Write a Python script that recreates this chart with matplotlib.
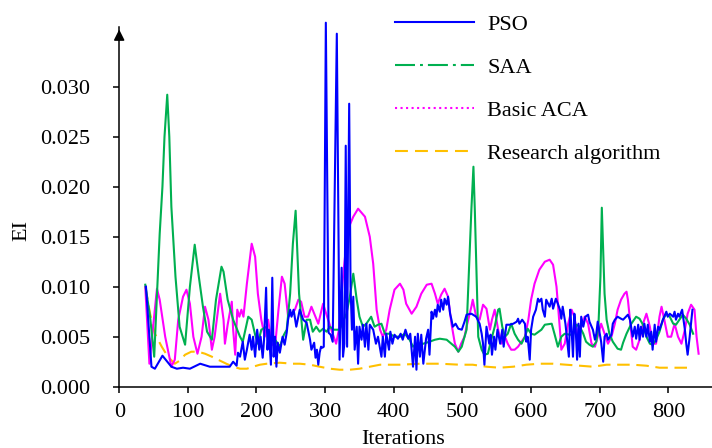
import matplotlib
matplotlib.use("Agg")
import matplotlib.pyplot as plt
from matplotlib.lines import Line2D

# ---------------- data ----------------
pso_iter = [39, 47, 52, 63, 76, 84, 93, 103, 118, 132, 154, 161, 166, 171, 173, 176, 180, 183, 186, 190,
            193, 195, 198, 201, 204, 206, 209, 211, 214, 216, 218, 221, 223, 225, 227, 229, 231, 234, 238, 241,
            244, 246, 249, 251, 254, 258, 263, 268, 273, 278, 280, 284, 286, 288, 290, 292, 294, 296, 298, 301,
            305, 308, 311, 317, 321, 324, 326, 328, 330, 332, 335, 337, 339, 341, 343, 346, 348, 350, 353, 355,
            358, 360, 363, 365, 370, 374, 377, 382, 384, 387, 389, 393, 395, 398, 401, 406, 410, 413, 417, 421,
            424, 428, 431, 433, 435, 438, 440, 443, 447, 450, 452, 455, 457, 460, 462, 464, 467, 469, 472, 474,
            477, 479, 482, 484, 486, 490, 494, 499, 503, 506, 513, 520, 525, 528, 530, 532, 535, 539, 541, 543,
            546, 548, 551, 553, 555, 558, 560, 564, 569, 574, 579, 581, 583, 587, 591, 593, 595, 598, 600, 603,
            607, 610, 612, 615, 617, 620, 622, 627, 630, 632, 636, 639, 642, 644, 646, 650, 652, 655, 657, 659,
            661, 663, 665, 667, 669, 671, 673, 676, 679, 683, 685, 690, 693, 695, 697, 702, 705, 707, 710, 712,
            717, 719, 722, 726, 731, 734, 741, 744, 748, 751, 753, 756, 758, 760, 763, 765, 768, 770, 773, 775,
            777, 780, 782, 785, 787, 792, 797, 799, 802, 807, 809, 811, 814, 816, 820, 824, 826, 828, 831, 835]
pso_ei = [0.0100, 0.0020, 0.0018, 0.0031, 0.0020, 0.0018, 0.0019, 0.0018, 0.0023, 0.0020, 0.0020, 0.0020, 0.0025, 0.0021, 0.0034, 0.0030, 0.0045, 0.0027, 0.0037, 0.0052,
          0.0037, 0.0050, 0.0030, 0.0057, 0.0037, 0.0050, 0.0029, 0.0047, 0.0099, 0.0037, 0.0057, 0.0022, 0.0109, 0.0030, 0.0050, 0.0020, 0.0044, 0.0034, 0.0050, 0.0042,
          0.0054, 0.0067, 0.0077, 0.0070, 0.0077, 0.0060, 0.0077, 0.0067, 0.0064, 0.0047, 0.0037, 0.0044, 0.0029, 0.0037, 0.0022, 0.0034, 0.0040, 0.0039, 0.0040, 0.0364,
          0.0054, 0.0052, 0.0045, 0.0353, 0.0027, 0.0119, 0.0030, 0.0043, 0.0241, 0.0040, 0.0283, 0.0100, 0.0057, 0.0090, 0.0037, 0.0060, 0.0023, 0.0060, 0.0047, 0.0062,
          0.0040, 0.0063, 0.0037, 0.0062, 0.0057, 0.0043, 0.0050, 0.0030, 0.0050, 0.0030, 0.0053, 0.0037, 0.0055, 0.0043, 0.0052, 0.0048, 0.0053, 0.0047, 0.0057, 0.0048,
          0.0053, 0.0020, 0.0050, 0.0017, 0.0053, 0.0030, 0.0052, 0.0023, 0.0048, 0.0057, 0.0032, 0.0075, 0.0068, 0.0077, 0.0070, 0.0082, 0.0075, 0.0087, 0.0077, 0.0088,
          0.0082, 0.0090, 0.0073, 0.0067, 0.0060, 0.0063, 0.0058, 0.0057, 0.0065, 0.0072, 0.0073, 0.0070, 0.0063, 0.0053, 0.0043, 0.0022, 0.0060, 0.0043, 0.0052, 0.0032,
          0.0050, 0.0037, 0.0057, 0.0050, 0.0043, 0.0057, 0.0040, 0.0062, 0.0062, 0.0063, 0.0065, 0.0068, 0.0063, 0.0067, 0.0063, 0.0045, 0.0050, 0.0027, 0.0057, 0.0070,
          0.0077, 0.0088, 0.0085, 0.0088, 0.0077, 0.0070, 0.0087, 0.0080, 0.0088, 0.0078, 0.0088, 0.0083, 0.0077, 0.0068, 0.0080, 0.0063, 0.0050, 0.0030, 0.0077, 0.0057,
          0.0030, 0.0073, 0.0057, 0.0027, 0.0063, 0.0030, 0.0070, 0.0060, 0.0070, 0.0072, 0.0065, 0.0057, 0.0047, 0.0053, 0.0065, 0.0045, 0.0025, 0.0050, 0.0053, 0.0047,
          0.0052, 0.0063, 0.0067, 0.0070, 0.0068, 0.0067, 0.0072, 0.0067, 0.0050, 0.0060, 0.0048, 0.0062, 0.0047, 0.0060, 0.0050, 0.0063, 0.0050, 0.0062, 0.0045, 0.0055,
          0.0037, 0.0062, 0.0045, 0.0060, 0.0057, 0.0067, 0.0075, 0.0070, 0.0073, 0.0070, 0.0075, 0.0067, 0.0073, 0.0070, 0.0077, 0.0057, 0.0043, 0.0032, 0.0050, 0.0077]

saa_iter = [38, 45, 51, 59, 63, 66, 70, 73, 76, 82, 88, 96, 103, 110, 116, 122, 128, 135, 141, 149,
            152, 158, 166, 176, 180, 188, 193, 198, 202, 207, 215, 219, 224, 229, 234, 240, 244, 249, 253, 257,
            262, 266, 268, 273, 278, 282, 287, 292, 297, 302, 307, 312, 321, 331, 336, 341, 346, 350, 355, 360,
            367, 372, 377, 382, 387, 394, 401, 409, 416, 423, 428, 433, 443, 452, 460, 467, 477, 489, 494, 499,
            503, 506, 513, 516, 518, 523, 528, 532, 537, 542, 547, 552, 554, 558, 562, 566, 571, 576, 581, 586,
            591, 595, 600, 605, 615, 620, 630, 634, 639, 644, 649, 656, 661, 666, 671, 676, 680, 685, 690, 695,
            698, 701, 703, 707, 710, 714, 719, 726, 731, 734, 739, 746, 753, 758, 763, 768, 773, 777, 782, 787,
            792, 797, 802, 807, 811, 816, 821, 826, 831, 836]
saa_ei = [0.0102, 0.0070, 0.0030, 0.0153, 0.0200, 0.0250, 0.0292, 0.0250, 0.0180, 0.0110, 0.0060, 0.0042, 0.0100, 0.0142, 0.0110, 0.0080, 0.0055, 0.0047, 0.0087, 0.0120,
          0.0115, 0.0087, 0.0067, 0.0050, 0.0045, 0.0070, 0.0067, 0.0052, 0.0043, 0.0057, 0.0060, 0.0045, 0.0050, 0.0045, 0.0040, 0.0052, 0.0057, 0.0093, 0.0143, 0.0176,
          0.0093, 0.0063, 0.0047, 0.0067, 0.0067, 0.0055, 0.0060, 0.0055, 0.0058, 0.0055, 0.0060, 0.0057, 0.0057, 0.0073, 0.0090, 0.0113, 0.0087, 0.0070, 0.0060, 0.0063,
          0.0070, 0.0060, 0.0062, 0.0063, 0.0053, 0.0053, 0.0050, 0.0050, 0.0053, 0.0047, 0.0040, 0.0043, 0.0043, 0.0045, 0.0047, 0.0048, 0.0047, 0.0040, 0.0035, 0.0040,
          0.0050, 0.0057, 0.0177, 0.0220, 0.0177, 0.0050, 0.0037, 0.0032, 0.0033, 0.0047, 0.0060, 0.0077, 0.0078, 0.0060, 0.0050, 0.0053, 0.0063, 0.0053, 0.0047, 0.0043,
          0.0050, 0.0058, 0.0053, 0.0052, 0.0057, 0.0062, 0.0063, 0.0053, 0.0040, 0.0050, 0.0053, 0.0052, 0.0052, 0.0062, 0.0060, 0.0053, 0.0045, 0.0042, 0.0040, 0.0045,
          0.0060, 0.0110, 0.0179, 0.0093, 0.0067, 0.0053, 0.0045, 0.0038, 0.0037, 0.0044, 0.0053, 0.0063, 0.0070, 0.0068, 0.0062, 0.0050, 0.0043, 0.0042, 0.0047, 0.0055,
          0.0067, 0.0073, 0.0070, 0.0063, 0.0062, 0.0067, 0.0072, 0.0068, 0.0062, 0.0053]

aca_iter = [38, 44, 49, 55, 59, 67, 76, 81, 86, 93, 98, 103, 108, 114, 120, 125, 130, 135, 139, 147,
            152, 154, 158, 164, 166, 169, 172, 175, 178, 181, 186, 193, 198, 202, 207, 212, 217, 222, 227, 232,
            237, 241, 246, 251, 256, 261, 265, 270, 275, 280, 290, 297, 302, 309, 316, 320, 326, 333, 341, 348,
            358, 365, 370, 375, 380, 384, 389, 394, 401, 409, 414, 418, 426, 433, 440, 448, 455, 460, 464, 469,
            474, 479, 484, 489, 494, 498, 503, 506, 513, 515, 520, 525, 530, 535, 540, 543, 547, 552, 557, 562,
            566, 571, 576, 581, 586, 591, 596, 600, 605, 612, 620, 627, 632, 637, 642, 644, 649, 654, 659, 663,
            668, 673, 678, 683, 688, 693, 697, 702, 707, 712, 717, 722, 726, 731, 736, 739, 741, 744, 748, 753,
            758, 763, 768, 773, 777, 782, 787, 790, 794, 799, 804, 809, 814, 819, 824, 828, 833, 838, 841, 844]
aca_ei = [0.0100, 0.0023, 0.0057, 0.0098, 0.0087, 0.0050, 0.0020, 0.0027, 0.0067, 0.0090, 0.0097, 0.0083, 0.0050, 0.0033, 0.0050, 0.0080, 0.0067, 0.0037, 0.0050, 0.0093,
          0.0067, 0.0043, 0.0062, 0.0085, 0.0057, 0.0032, 0.0077, 0.0070, 0.0077, 0.0070, 0.0103, 0.0143, 0.0130, 0.0093, 0.0067, 0.0050, 0.0067, 0.0043, 0.0040, 0.0077,
          0.0110, 0.0103, 0.0070, 0.0073, 0.0077, 0.0087, 0.0085, 0.0070, 0.0070, 0.0080, 0.0063, 0.0083, 0.0072, 0.0057, 0.0043, 0.0057, 0.0110, 0.0157, 0.0170, 0.0178,
          0.0170, 0.0150, 0.0123, 0.0077, 0.0057, 0.0050, 0.0057, 0.0077, 0.0097, 0.0103, 0.0097, 0.0083, 0.0073, 0.0080, 0.0093, 0.0102, 0.0103, 0.0093, 0.0083, 0.0092,
          0.0098, 0.0090, 0.0063, 0.0043, 0.0035, 0.0043, 0.0050, 0.0060, 0.0080, 0.0087, 0.0070, 0.0067, 0.0082, 0.0078, 0.0057, 0.0067, 0.0077, 0.0057, 0.0043, 0.0050,
          0.0043, 0.0037, 0.0037, 0.0040, 0.0045, 0.0050, 0.0067, 0.0087, 0.0103, 0.0117, 0.0125, 0.0127, 0.0122, 0.0100, 0.0057, 0.0037, 0.0043, 0.0063, 0.0077, 0.0070,
          0.0048, 0.0060, 0.0070, 0.0063, 0.0043, 0.0040, 0.0050, 0.0063, 0.0053, 0.0043, 0.0050, 0.0063, 0.0077, 0.0087, 0.0093, 0.0095, 0.0087, 0.0067, 0.0040, 0.0037,
          0.0047, 0.0063, 0.0073, 0.0060, 0.0043, 0.0043, 0.0070, 0.0080, 0.0067, 0.0050, 0.0050, 0.0063, 0.0050, 0.0043, 0.0057, 0.0073, 0.0082, 0.0077, 0.0050, 0.0033]

res_iter = [38, 45, 52, 62, 71, 81, 88, 96, 105, 115, 125, 135, 144, 156, 166, 176, 186, 195, 205, 215,
            234, 253, 263, 278, 292, 307, 321, 336, 350, 365, 380, 409, 438, 467, 496, 515, 535, 554, 574, 593,
            612, 632, 651, 671, 690, 710, 729, 748, 768, 787, 807, 828]
res_ei = [0.0100, 0.0073, 0.0053, 0.0040, 0.0030, 0.0023, 0.0026, 0.0032, 0.0035, 0.0035, 0.0033, 0.0030, 0.0027, 0.0023, 0.0020, 0.0018, 0.0018, 0.0020, 0.0022, 0.0023,
          0.0024, 0.0023, 0.0023, 0.0022, 0.0020, 0.0018, 0.0017, 0.0017, 0.0018, 0.0020, 0.0022, 0.0022, 0.0023, 0.0023, 0.0022, 0.0022, 0.0020, 0.0019, 0.0020, 0.0022,
          0.0023, 0.0023, 0.0022, 0.0021, 0.0020, 0.0022, 0.0022, 0.0022, 0.0021, 0.0019, 0.0019, 0.0019]

series_names = ["PSO", "SAA", "Basic ACA", "Research algorithm"]
x_ticks = [0, 100, 200, 300, 400, 500, 600, 700, 800]
y_ticks = [0.000, 0.005, 0.010, 0.015, 0.020, 0.025, 0.030]

# ---------------- style ----------------
C_PSO = "#0000FF"
C_SAA = "#00B050"
C_ACA = "#FF00FF"
C_RES = "#FFC000"
FONT = "Liberation Serif"

plt.rcParams["font.family"] = [FONT, "DejaVu Serif"]

fig = plt.figure(figsize=(7.12, 4.48), dpi=100)
ax = fig.add_axes([0.1674, 0.1368, 0.8326, 0.8036])

lw = 1.5
ax.plot(res_iter, res_ei, color=C_RES, lw=lw, dashes=(6.0, 3.2), zorder=2, clip_on=False)
ax.plot(aca_iter, aca_ei, color=C_ACA, lw=lw, zorder=3, clip_on=False)
ax.plot(saa_iter, saa_ei, color=C_SAA, lw=lw, zorder=4, clip_on=False)
ax.plot(pso_iter, pso_ei, color=C_PSO, lw=lw, zorder=5, clip_on=False)

ax.set_xlim(0, 863.5)
ax.set_ylim(0, 0.036)
ax.set_xticks(x_ticks)
ax.set_xticklabels([str(v) for v in x_ticks])
ax.set_yticks(y_ticks)
ax.set_yticklabels(["%.3f" % v for v in y_ticks])

for s in ["top", "right"]:
    ax.spines[s].set_visible(False)
for s in ["left", "bottom"]:
    ax.spines[s].set_linewidth(1.1)
    ax.spines[s].set_color("black")

ax.tick_params(axis="both", direction="out", length=4, width=1.1, colors="black", labelsize=16)
ax.tick_params(axis="y", pad=17)
ax.tick_params(axis="x", pad=8)
for lab in ax.get_xticklabels() + ax.get_yticklabels():
    lab.set_fontfamily(FONT)

# arrow at the top of the y axis
ax.annotate("", xy=(0, 1.0), xytext=(0, 0.96), xycoords="axes fraction",
            arrowprops=dict(arrowstyle="-|>", color="black", lw=1.1, mutation_scale=16),
            annotation_clip=False)

ax.set_ylabel("EI", fontsize=16, fontfamily=FONT)
ax.yaxis.set_label_coords(-0.148, 0.433)
ax.set_xlabel("Iterations", fontsize=16, fontfamily=FONT)
ax.xaxis.set_label_coords(0.479, -0.12)

# legend
handles = [
    Line2D([], [], color=C_PSO, lw=1.5),
    Line2D([], [], color=C_SAA, lw=1.5, dashes=(9.6, 2.4, 1.4, 2.4)),
    Line2D([], [], color=C_ACA, lw=1.5, linestyle=":"),
    Line2D([], [], color=C_RES, lw=1.5, dashes=(6.2, 3.4)),
]
leg = fig.legend(handles, series_names, loc="upper left",
                 bbox_to_anchor=(395 / 712, 1 - 14 / 448), frameon=False,
                 prop={"family": FONT, "size": 16}, handlelength=3.56,
                 handletextpad=0.6, labelspacing=1.02, borderpad=0, borderaxespad=0)

fig.savefig("out.png", dpi=100)
